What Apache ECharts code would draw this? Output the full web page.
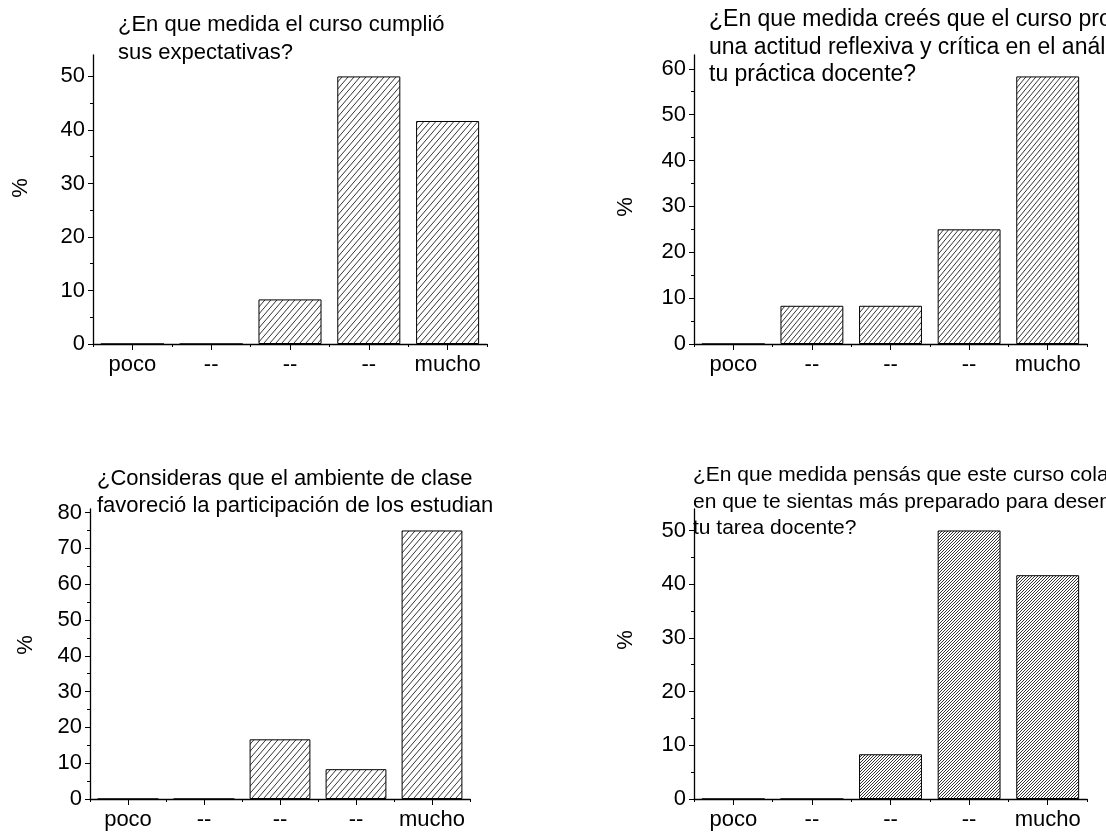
<!DOCTYPE html>
<html><head><meta charset="utf-8">
<script src="https://cdn.jsdelivr.net/npm/echarts@6/dist/echarts.min.js"></script>
<style>html,body{margin:0;padding:0;background:#fff}#c{width:1106px;height:832px}</style>
</head><body><div id="c"></div>
<script>
// ---- data ----
const categories = ['poco', '--', '--', '--', 'mucho'];
const valuesExpectativas = [0, 0, 8.33, 50, 41.67];
const valuesReflexiva = [0, 8.33, 8.33, 25, 58.33];
const valuesAmbiente = [0, 0, 16.67, 8.33, 75];
const valuesPreparado = [0, 0, 8.33, 50, 41.67];
const title1 = '¿En que medida el curso cumplió\nsus expectativas?';
const title2 = '¿En que medida creés que el curso promovió\nuna actitud reflexiva y crítica en el análisis de\ntu práctica docente?';
const title3 = '¿Consideras que el ambiente de clase\nfavoreció la participación de los estudian';
const title4 = '¿En que medida pensás que este curso colaboró\nen que te sientas más preparado para desempeñar\ntu tarea docente?';
const yAxisName = '%';
const yMax1 = 54, yMax2 = 63, yMax3 = 81, yMax4 = 54;
const yTicks1 = [0, 10, 20, 30, 40, 50];
const yTicks2 = [0, 10, 20, 30, 40, 50, 60];
const yTicks3 = [0, 10, 20, 30, 40, 50, 60, 70, 80];
const yTicks4 = [0, 10, 20, 30, 40, 50];
const yMinor1 = [5, 15, 25, 35, 45];
const yMinor2 = [5, 15, 25, 35, 45, 55];
const yMinor3 = [5, 15, 25, 35, 45, 55, 65, 75];
const yMinor4 = [5, 15, 25, 35, 45];

// ---- styling helpers ----
const FONT = 'Arial, "Liberation Sans", Helvetica, sans-serif';
function hatch(w, h, lw) {
  const c = document.createElement('canvas');
  c.width = w; c.height = h;
  const ctx = c.getContext('2d');
  ctx.strokeStyle = '#000';
  ctx.lineWidth = lw;
  ctx.beginPath();
  for (let k = -1; k <= 1; k++) { ctx.moveTo(k * w, h); ctx.lineTo(k * w + w, 0); }
  ctx.stroke();
  return c;
}

const panels = [
  { values: valuesExpectativas, max: yMax1, ticks: yTicks1, minor: yMinor1, title: title1,
    grid: { left: 93, top: 55, width: 394, height: 289 }, titlePos: { left: 118, top: 11 }, titleSize: 22, lh: 28,
    hatch: [6, 7], namePos: [21, 188] },
  { values: valuesReflexiva, max: yMax2, ticks: yTicks2, minor: yMinor2, title: title2,
    grid: { left: 694, top: 55, width: 393, height: 289 }, titlePos: { left: 709, top: 6 }, titleSize: 23, lh: 27.5,
    hatch: [5, 6], namePos: [626, 207] },
  { values: valuesAmbiente, max: yMax3, ticks: yTicks3, minor: yMinor3, title: title3,
    grid: { left: 90, top: 509, width: 380, height: 290 }, titlePos: { left: 97, top: 465 }, titleSize: 22, lh: 27,
    hatch: [6, 7], namePos: [26, 645] },
  { values: valuesPreparado, max: yMax4, ticks: yTicks4, minor: yMinor4, title: title4,
    grid: { left: 694, top: 509, width: 393, height: 290 }, titlePos: { left: 693, top: 462 }, titleSize: 21, lh: 26.5,
    hatch: [3, 3], namePos: [626, 640] }
];

const option = { animation: false, backgroundColor: '#fff', title: [], grid: [], xAxis: [], yAxis: [], series: [], graphic: [] };
const axisLineStyle = { color: '#000', width: 1.3 };
panels.forEach((p, i) => {
  option.grid.push(Object.assign({ containLabel: false }, p.grid));
  option.title.push({
    text: p.title, left: p.titlePos.left, top: p.titlePos.top, padding: 0,
    textStyle: { fontFamily: FONT, fontSize: p.titleSize, fontWeight: 'normal', color: '#000', lineHeight: p.lh }
  });
  option.graphic.push({
    type: 'text', x: p.namePos[0], y: p.namePos[1], rotation: Math.PI / 2,
    style: { text: yAxisName, fill: '#000', font: '22px ' + FONT, textAlign: 'center', textVerticalAlign: 'middle' }
  });
  // main x axis: labels + center ticks
  option.xAxis.push({
    type: 'category', gridIndex: i, data: categories, position: 'bottom',
    axisLine: { show: true, lineStyle: axisLineStyle },
    axisTick: { show: true, alignWithLabel: true, length: 6, lineStyle: { color: '#000', width: 1 } },
    axisLabel: { show: true, interval: 0, margin: 10, fontFamily: FONT, fontSize: 22, color: '#000' },
    splitLine: { show: false }
  });
  // overlay x axis: boundary ticks
  option.xAxis.push({
    type: 'category', gridIndex: i, data: categories, position: 'bottom',
    axisLine: { show: false },
    axisTick: { show: true, alignWithLabel: false, interval: 0, length: 3, lineStyle: { color: '#000', width: 1 } },
    axisLabel: { show: false }, splitLine: { show: false }
  });
  // main y axis
  option.yAxis.push({
    type: 'value', gridIndex: i, min: 0, max: p.max, interval: 10, position: 'left',
    axisLine: { show: true, lineStyle: axisLineStyle },
    axisTick: { show: true, length: 5, customValues: p.ticks, lineStyle: { color: '#000', width: 1 } },
    axisLabel: { show: true, margin: 8, customValues: p.ticks, fontFamily: FONT, fontSize: 22, color: '#000' },
    splitLine: { show: false }
  });
  // overlay y axis: minor ticks
  option.yAxis.push({
    type: 'value', gridIndex: i, min: 0, max: p.max, interval: 10, position: 'left',
    axisLine: { show: false },
    axisTick: { show: true, length: 3, customValues: p.minor, lineStyle: { color: '#000', width: 1 } },
    axisLabel: { show: false }, splitLine: { show: false }
  });
  option.series.push({
    type: 'bar', xAxisIndex: 2 * i, yAxisIndex: 2 * i, data: p.values,
    barCategoryGap: '20%',
    itemStyle: {
      color: { image: hatch(p.hatch[0], p.hatch[1], 0.8), repeat: 'repeat' },
      borderColor: '#000', borderWidth: 1
    },
    emphasis: { disabled: true }
  });
});

const chart = echarts.init(document.getElementById('c'), null, { renderer: 'canvas' });
chart.setOption(option);
</script>
</body></html>
